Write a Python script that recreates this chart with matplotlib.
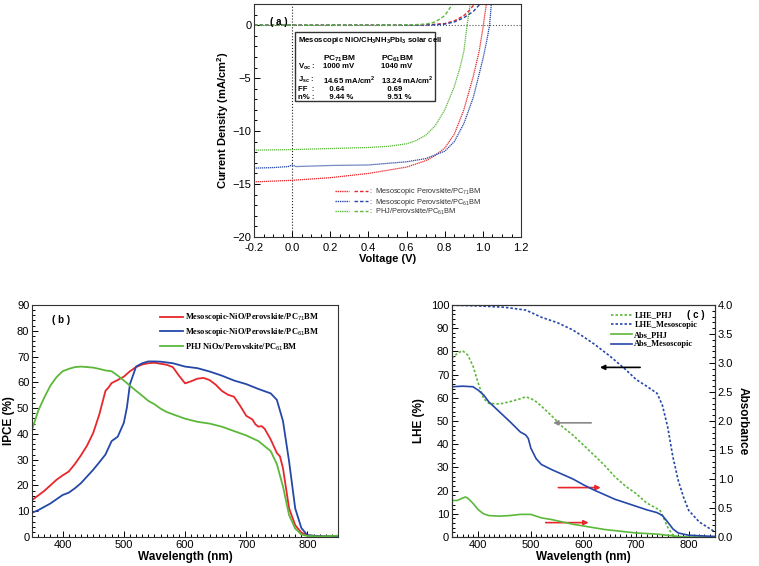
import numpy as np
import matplotlib
matplotlib.use("Agg")
import matplotlib.pyplot as plt
from matplotlib.ticker import MultipleLocator
from matplotlib.legend_handler import HandlerTuple
from matplotlib.lines import Line2D
from matplotlib.patches import Rectangle

plt.rcParams["font.family"] = ["Liberation Sans", "DejaVu Sans"]
plt.rcParams["mathtext.fontset"] = "custom"
plt.rcParams["mathtext.rm"] = "Liberation Sans"
plt.rcParams["mathtext.bf"] = "Liberation Sans:bold"

RED, BLUE, GREEN = "#e8262b", "#2548a8", "#5cb83a"

# --- (a) J-V data ----------------------------------------------------------
v_red = [-0.2, 0.0, 0.2, 0.4, 0.6, 0.7, 0.75, 0.8, 0.85, 0.9, 0.95, 0.98, 1.0, 1.01, 1.02]
j_red = [-14.8, -14.65, -14.4, -14.0, -13.4, -12.8, -12.3, -11.6, -10.3, -8.0, -4.8, -2.5, -0.3, 1.0, 2.2]
v_blue = [-0.2, -0.1, -0.02, 0.0, 0.02, 0.2, 0.4, 0.6, 0.7, 0.8, 0.85, 0.9, 0.95, 1.0, 1.02, 1.035, 1.045]
j_blue = [-13.5, -13.45, -13.35, -13.2, -13.35, -13.25, -13.2, -12.9, -12.6, -11.9, -11.0, -9.3, -6.8, -3.2, -1.5, 0.0, 2.2]
v_green = [-0.2, 0.0, 0.2, 0.4, 0.5, 0.6, 0.65, 0.7, 0.75, 0.8, 0.85, 0.88, 0.9, 0.915, 0.925, 0.935]
j_green = [-11.8, -11.75, -11.65, -11.55, -11.45, -11.2, -10.9, -10.4, -9.5, -8.0, -5.8, -4.0, -2.5, -0.3, 1.0, 2.2]

vd_red = [-0.2, 0.6, 0.7, 0.8, 0.85, 0.9, 0.93, 0.96]
jd_red = [0.0, 0.0, 0.02, 0.15, 0.4, 0.9, 1.4, 2.1]
vd_blue = [-0.2, 0.65, 0.75, 0.8, 0.85, 0.9, 0.95, 0.99]
jd_blue = [0.0, 0.0, 0.03, 0.1, 0.3, 0.7, 1.3, 2.1]
vd_green = [-0.2, 0.55, 0.65, 0.7, 0.75, 0.8, 0.845]
jd_green = [0.0, 0.0, 0.05, 0.1, 0.3, 0.9, 2.1]

# --- (b) IPCE data ---------------------------------------------------------
wl_b_red = [350, 370, 390, 400, 410, 420, 430, 440, 450, 460, 470, 475, 480, 490, 500, 510, 520, 530, 540,
            550, 560, 570, 580, 590, 600, 610, 620, 630, 640, 650, 660, 670, 680, 690, 700, 710, 715, 720,
            725, 730, 740, 750, 755, 760, 770, 780, 790, 800, 820, 850]
ipce_red = [14.3, 17.9, 22.2, 23.9, 25.4, 28.3, 31.7, 35.5, 40.4, 47.6, 56.7, 58.0, 59.7, 60.9, 62.2, 64.3,
            65.9, 66.9, 67.4, 67.6, 67.2, 66.8, 65.9, 62.6, 59.6, 60.4, 61.4, 61.7, 60.9, 59.1, 56.7, 55.2,
            54.4, 50.9, 47.0, 45.6, 43.7, 42.8, 43.0, 42.0, 37.8, 32.6, 31.3, 26.7, 11.1, 4.6, 1.7, 0.7, 0.2, 0.3]
wl_b_blue = [350, 360, 380, 400, 410, 420, 430, 440, 450, 460, 470, 480, 490, 500, 505, 510, 520, 530, 540,
             550, 560, 580, 600, 620, 640, 660, 680, 700, 720, 740, 750, 760, 770, 780, 790, 800, 820, 850]
ipce_blue = [9.4, 10.4, 13.0, 16.3, 17.2, 18.9, 20.9, 23.5, 26.1, 29.0, 32.0, 37.2, 38.9, 44.3, 50.2, 59.3,
             66.1, 67.4, 68.1, 68.1, 68.0, 67.4, 66.1, 65.5, 64.2, 62.6, 60.7, 59.3, 57.4, 55.7, 53.2, 45.0,
             29.3, 11.1, 3.5, 0.7, 0.3, 0.3]
wl_b_green = [350, 360, 370, 380, 390, 400, 410, 420, 430, 440, 450, 460, 470, 480, 490, 500, 510, 520, 530,
              540, 550, 560, 570, 580, 600, 620, 640, 660, 680, 700, 720, 740, 750, 760, 770, 780, 790, 800,
              820, 850]
ipce_green = [41.7, 48.9, 54.1, 58.7, 62.0, 64.3, 65.2, 65.9, 66.1, 65.9, 65.7, 65.2, 64.6, 64.3, 62.6, 60.7,
              58.7, 56.7, 54.8, 52.8, 51.5, 49.8, 48.5, 47.6, 45.9, 44.7, 44.0, 42.8, 41.1, 39.4, 37.2, 33.3,
              28.3, 19.6, 8.5, 3.3, 1.0, 0.4, 0.2, 0.5]

# --- (c) LHE / absorbance data ---------------------------------------------
wl_lhe_meso = [350, 400, 450, 480, 490, 500, 520, 550, 580, 600, 620, 650, 680, 700, 720, 740, 750, 760,
               770, 780, 790, 800, 820, 850]
lhe_meso = [99.9, 99.6, 99.0, 98.1, 97.8, 96.8, 94.7, 92.4, 89.2, 86.3, 83.2, 78.0, 72.2, 67.9, 65.0, 61.9,
            56.8, 47.5, 34.5, 24.5, 17.3, 11.5, 6.5, 2.2]
wl_lhe_phj = [350, 360, 370, 380, 390, 400, 410, 420, 440, 460, 480, 490, 500, 510, 520, 540, 560, 580, 600,
              620, 640, 660, 680, 700, 720, 740, 745, 750, 760, 770, 780, 790]
lhe_phj = [77.0, 79.1, 80.3, 78.4, 73.7, 66.2, 59.7, 57.6, 57.3, 58.3, 59.6, 60.4, 59.7, 58.3, 56.4, 52.1,
           47.5, 43.9, 39.6, 35.3, 30.9, 25.9, 21.9, 18.7, 14.7, 12.2, 11.8, 9.4, 4.3, 0.7, 0.0, 0.0]
wl_abs_meso = [350, 370, 390, 400, 410, 420, 440, 460, 470, 480, 490, 495, 500, 510, 520, 540, 560, 580, 600,
               620, 640, 660, 680, 700, 720, 740, 750, 760, 770, 780, 790, 800, 850]
abs_meso = [2.59, 2.60, 2.59, 2.53, 2.45, 2.33, 2.16, 1.99, 1.90, 1.81, 1.76, 1.70, 1.53, 1.35, 1.25, 1.16,
            1.08, 1.00, 0.90, 0.81, 0.73, 0.65, 0.59, 0.53, 0.47, 0.42, 0.37, 0.26, 0.14, 0.07, 0.05, 0.03, 0.01]
wl_abs_phj = [350, 360, 370, 375, 380, 390, 400, 410, 420, 440, 460, 480, 500, 520, 540, 560, 580, 600, 620,
              640, 660, 680, 700, 720, 740, 760, 780, 800, 850]
abs_phj = [0.63, 0.63, 0.67, 0.69, 0.67, 0.58, 0.47, 0.40, 0.37, 0.36, 0.37, 0.39, 0.39, 0.33, 0.30, 0.26,
           0.22, 0.19, 0.16, 0.13, 0.11, 0.09, 0.07, 0.06, 0.05, 0.03, 0.01, 0.0, 0.0]

fig = plt.figure(figsize=(7.59, 5.66), dpi=100)


def style_ax(ax, fs=8):
    ax.tick_params(which="both", direction="in", labelsize=fs, width=0.7, pad=2)
    ax.tick_params(which="major", length=4)
    ax.tick_params(which="minor", length=2)
    for s in ax.spines.values():
        s.set_linewidth(0.8)
        s.set_color("#333333")


# ---------------- (a) ----------------
axa = fig.add_axes([0.3347, 0.5813, 0.3518, 0.4117])
axa.plot(v_red, j_red, ls=(0, (1, 0.6)), color=RED, lw=0.9)
axa.plot(v_blue, j_blue, ls=(0, (1, 0.6)), color=BLUE, lw=0.9)
axa.plot(v_green, j_green, ls=(0, (1, 0.6)), color=GREEN, lw=0.9)
axa.plot(vd_red, jd_red, ls=(0, (2.5, 1.5)), color=RED, lw=1.0)
axa.plot(vd_blue, jd_blue, ls=(0, (2.5, 1.5)), color=BLUE, lw=1.0)
axa.plot(vd_green, jd_green, ls=(0, (2.5, 1.5)), color=GREEN, lw=1.0)
axa.axhline(0, color="#555555", ls=":", lw=0.8, zorder=0)
axa.axvline(0, color="#222222", ls=":", lw=0.8, zorder=0)
axa.set_xlim(-0.2, 1.2)
axa.set_ylim(-20, 2)
axa.xaxis.set_minor_locator(MultipleLocator(0.05))
axa.yaxis.set_major_locator(MultipleLocator(5))
axa.yaxis.set_minor_locator(MultipleLocator(1))
axa.set_xticks(np.arange(-0.2, 1.21, 0.2))
axa.set_xticklabels(["-0.2", "0.0", "0.2", "0.4", "0.6", "0.8", "1.0", "1.2"])
style_ax(axa, 8)
axa.tick_params(axis="x", pad=4)
axa.set_xlabel("Voltage (V)", fontsize=8, fontweight="bold", labelpad=1)
axa.set_ylabel("Current Density (mA/cm$^\\mathbf{2}$)", fontsize=8, fontweight="bold", labelpad=1)
axa.text(0.06, 0.945, "( a )", transform=axa.transAxes, fontsize=7, fontweight="bold", va="top")

# info box
axa.add_patch(Rectangle((0.015, -7.2), 0.734, 6.55, fill=False, lw=1.0, ec="#333333", zorder=3))
tfs = 5.6
axa.text(0.03, -1.45, "Mesoscopic NiO/CH$_\\mathbf{3}$NH$_\\mathbf{3}$PbI$_\\mathbf{3}$ solar cell",
         fontsize=5.6, fontweight="bold", va="center")
rows = [
    (-3.15, "", "PC$_\\mathbf{71}$BM", "PC$_\\mathbf{61}$BM"),
    (-3.95, "V$_\\mathbf{oc}$ :", "1000 mV", "1040 mV"),
    (-5.15, "J$_\\mathbf{sc}$ :", "14.65 mA/cm$^\\mathbf{2}$", "13.24 mA/cm$^\\mathbf{2}$"),
    (-6.05, "FF  :", "   0.64", "   0.69"),
    (-6.8, "n% :", "   9.44 %", "   9.51 %"),
]
for y, lab, c1, c2 in rows:
    fs = tfs if y < -3.5 else 6.0
    axa.text(0.03, y, lab, fontsize=tfs, fontweight="bold", va="center")
    axa.text(0.16, y, c1, fontsize=fs, fontweight="bold", va="center")
    axa.text(0.465, y, c2, fontsize=fs, fontweight="bold", va="center")

ha = [(Line2D([], [], color=c, ls=(0, (1, 0.6)), lw=1.0), Line2D([], [], color=c, ls=(0, (2.5, 1.5)), lw=1.0))
      for c in (RED, BLUE, GREEN)]
labs_a = [":  Mesoscopic Perovskite/PC$_{71}$BM", ":  Mesoscopic Perovskite/PC$_{61}$BM",
          ":  PHJ/Perovskite/PC$_{61}$BM"]
axa.legend(ha, labs_a, handler_map={tuple: HandlerTuple(ndivide=None, pad=0.6)}, loc="lower left",
           bbox_to_anchor=(0.29, 0.07), frameon=False, fontsize=5.3, handlelength=4.4, handletextpad=0.2,
           labelspacing=-0.1, borderpad=0.0, labelcolor="#333333")

# ---------------- (b) ----------------
axb = fig.add_axes([0.0422, 0.0512, 0.4032, 0.41])
axb.plot(wl_b_red, ipce_red, color=RED, lw=1.3, label="Mesoscopic-NiO/Perovskite/PC$_{71}$BM")
axb.plot(wl_b_blue, ipce_blue, color=BLUE, lw=1.3, label="Mesoscopic-NiO/Perovskite/PC$_{61}$BM")
axb.plot(wl_b_green, ipce_green, color=GREEN, lw=1.3, label="PHJ NiOx/Perovskite/PC$_{61}$BM")
axb.set_xlim(350, 850)
axb.set_ylim(0, 90)
axb.xaxis.set_major_locator(MultipleLocator(100))
axb.xaxis.set_minor_locator(MultipleLocator(10))
axb.yaxis.set_major_locator(MultipleLocator(10))
axb.yaxis.set_minor_locator(MultipleLocator(2))
style_ax(axb, 8)
axb.set_xlabel("Wavelength (nm)", fontsize=8.5, fontweight="bold", labelpad=1)
axb.set_ylabel("IPCE (%)", fontsize=8.5, fontweight="bold", labelpad=1)
axb.text(0.065, 0.935, "( b )", transform=axb.transAxes, fontsize=7, fontweight="bold", va="center")
axb.legend(loc="upper left", bbox_to_anchor=(0.405, 0.99), frameon=False, handlelength=2.7,
           handletextpad=0.3, labelspacing=0.35, borderpad=0.0,
           prop={"family": "Liberation Serif", "weight": "bold", "size": 6.0})

# ---------------- (c) ----------------
axc = fig.add_axes([0.5955, 0.0512, 0.3465, 0.41])
axc2 = axc.twinx()
l1, = axc.plot(wl_lhe_phj, lhe_phj, color=GREEN, ls=(0, (1.5, 1.2)), lw=1.2)
l2, = axc.plot(wl_lhe_meso, lhe_meso, color=BLUE, ls=(0, (1.5, 1.2)), lw=1.2)
l3, = axc2.plot(wl_abs_phj, abs_phj, color=GREEN, lw=1.2)
l4, = axc2.plot(wl_abs_meso, abs_meso, color=BLUE, lw=1.2)
axc.set_xlim(350, 850)
axc.set_ylim(0, 100)
axc2.set_ylim(0, 4)
axc.xaxis.set_major_locator(MultipleLocator(100))
axc.xaxis.set_minor_locator(MultipleLocator(10))
axc.yaxis.set_major_locator(MultipleLocator(10))
axc.yaxis.set_minor_locator(MultipleLocator(2))
axc2.yaxis.set_minor_locator(MultipleLocator(0.1))
style_ax(axc, 8)
style_ax(axc2, 8)
axc2.set_yticks(np.arange(0, 4.01, 0.5))
axc2.set_yticklabels([f"{t:.1f}" for t in np.arange(0, 4.01, 0.5)])
axc.set_xlabel("Wavelength (nm)", fontsize=8.5, fontweight="bold", labelpad=1)
axc.set_ylabel("LHE (%)", fontsize=8.5, fontweight="bold", labelpad=4)
axc2.set_ylabel("Absorbance", fontsize=8.5, fontweight="bold", rotation=270, labelpad=11)
axc.text(0.96, 0.955, "( c )", transform=axc.transAxes, fontsize=7, fontweight="bold", va="center",
         ha="right")
axc.legend([l1, l2, l3, l4], ["LHE_PHJ", "LHE_Mesoscopic", "Abs_PHJ", "Abs_Mesoscopic"], loc="upper left",
           bbox_to_anchor=(0.589, 0.99), frameon=False, handlelength=2.5, handletextpad=0.3,
           labelspacing=0.2, borderpad=0.0, prop={"family": "Liberation Serif", "weight": "bold", "size": 6.0})

arrows = [((626, 73.1), (713, 73.1), "black"), ((537, 49.2), (620, 49.2), "#888888"),
          ((638, 21.3), (547, 21.3), RED), ((615, 6.2), (523, 6.2), RED)]
for tip, tail, c in arrows:
    axc.annotate("", xy=tip, xytext=tail,
                 arrowprops=dict(arrowstyle="-|>", color=c, lw=1.2, mutation_scale=7))

fig.savefig("out.png", dpi=100)
